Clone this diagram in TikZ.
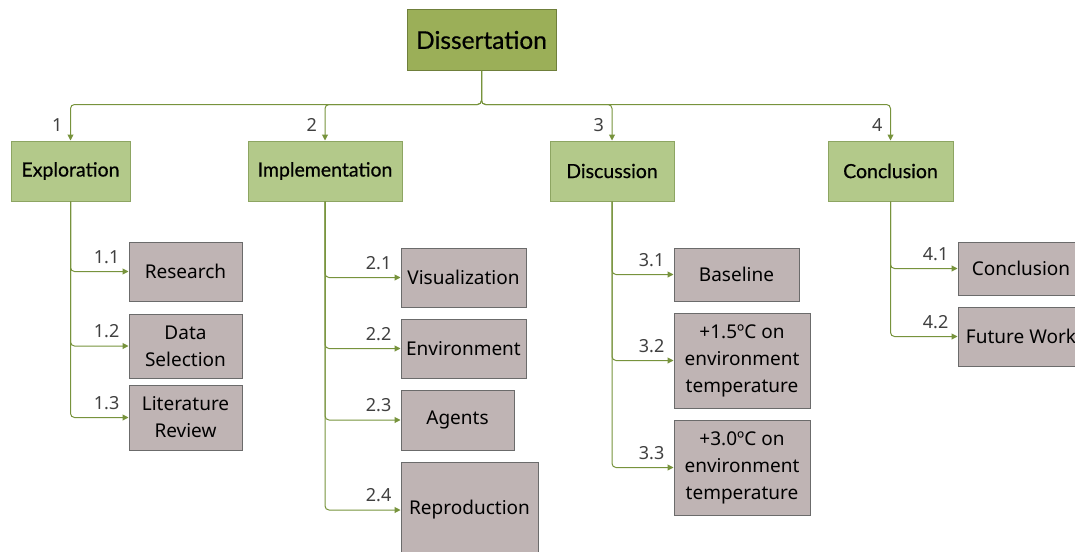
\documentclass[tikz,border=0pt]{standalone}
\usepackage{fontspec}
\setmainfont{Noto Sans}
\newfontfamily\headfont[FakeBold=0.5]{Lato}
\usetikzlibrary{arrows.meta}
\definecolor{rootfill}{HTML}{9BAF58}
\definecolor{rootline}{HTML}{6F7F3B}
\definecolor{topfill}{HTML}{B3C98A}
\definecolor{topline}{HTML}{8DA562}
\definecolor{leaffill}{HTML}{BFB4B4}
\definecolor{leafline}{HTML}{6B6B6B}
\definecolor{wire}{HTML}{77933C}
\definecolor{numtext}{HTML}{404040}
\tikzset{
  rootbox/.style={draw=rootline, fill=rootfill, line width=1pt, inner sep=0pt,
    font=\headfont\fontsize{24.5}{28}\selectfont},
  topbox/.style={draw=topline, fill=topfill, line width=1pt, inner sep=0pt,
    font=\headfont\fontsize{19.5}{23}\selectfont},
  leafbox/.style={draw=leafline, fill=leaffill, line width=1pt, inner sep=0pt,
    align=center, font=\fontsize{19}{27}\selectfont},
  wirepath/.style={draw=wire, line width=1pt, rounded corners=4pt,
    -{Triangle[length=6pt,width=6pt]}},
  numlabel/.style={anchor=south east, inner sep=0pt, text=numtext,
    font=\fontsize{18}{21}\selectfont},
}
\begin{document}
\begin{tikzpicture}[x=1pt,y=-1pt]
\useasboundingbox (0,0) rectangle (1075,551);
\clip (0,0) rectangle (1075,551);

% root
\node[rootbox, minimum width=149pt, minimum height=60pt] (dis) at (481.5,40) {Dissertation};

% first level
\node[topbox, minimum width=119pt, minimum height=60pt] (e) at (70.5,171) {Exploration};
\node[topbox, minimum width=154pt, minimum height=60pt] (i) at (325,171) {Implementation};
\node[topbox, minimum width=124pt, minimum height=60pt] (d) at (612,171) {Discussion};
\node[topbox, minimum width=125pt, minimum height=60pt] (c) at (890.5,171) {Conclusion};

% second level: exploration
\node[leafbox, minimum width=113pt, minimum height=59pt] (r) at (185.5,271.5) {Research};
\node[leafbox, minimum width=113pt, minimum height=64pt] (ds) at (185.5,346) {Data\\Selection};
\node[leafbox, minimum width=113pt, minimum height=65pt] (lr) at (185.5,417.5) {Literature\\Review};

% second level: implementation
\node[leafbox, minimum width=125pt, minimum height=59pt] (v) at (463.5,277.5) {Visualization};
\node[leafbox, minimum width=125pt, minimum height=59pt] (env) at (463.5,348.5) {Environment};
\node[leafbox, minimum width=113pt, minimum height=60pt] (ag) at (457.5,420) {Agents};
\node[leafbox, minimum width=137pt, minimum height=96pt] (rep) at (469.5,510) {Reproduction};

% second level: discussion
\node[leafbox, minimum width=125pt, minimum height=53pt] (b) at (736.5,274.5) {Baseline};
\node[leafbox, minimum width=136pt, minimum height=95pt] (t1) at (742,360.5) {+1.5ºC on\\environment\\temperature};
\node[leafbox, minimum width=136pt, minimum height=95pt] (t2) at (742,467.5) {+3.0ºC on\\environment\\temperature};

% second level: conclusion
\node[leafbox, minimum width=126pt, minimum height=53pt] (cc) at (1021,268.5) {Conclusion};
\node[leafbox, minimum width=126pt, minimum height=59pt] (fw) at (1021,336.5) {Future Work};

% root to first level
\foreach \t/\n in {e/1, i/2, d/3, c/4} {
  \draw[wirepath] (dis.south) -- ++(0,34) -| (\t.north);
  \node[numlabel] (n\t) at ([xshift=-8pt,yshift=9pt]\t.north) {\n};
}

% first level to second level
\foreach \p/\t/\n in {e/r/1.1, e/ds/1.2, e/lr/1.3,
                      i/v/2.1, i/env/2.2, i/ag/2.3, i/rep/2.4,
                      d/b/3.1, d/t1/3.2, d/t2/3.3,
                      c/cc/4.1, c/fw/4.2} {
  \draw[wirepath] (\p.south) |- (\t.west);
  \node[numlabel] (n\t) at ([xshift=-9pt,yshift=8pt]\t.west) {\n};
}
\end{tikzpicture}
\end{document}
